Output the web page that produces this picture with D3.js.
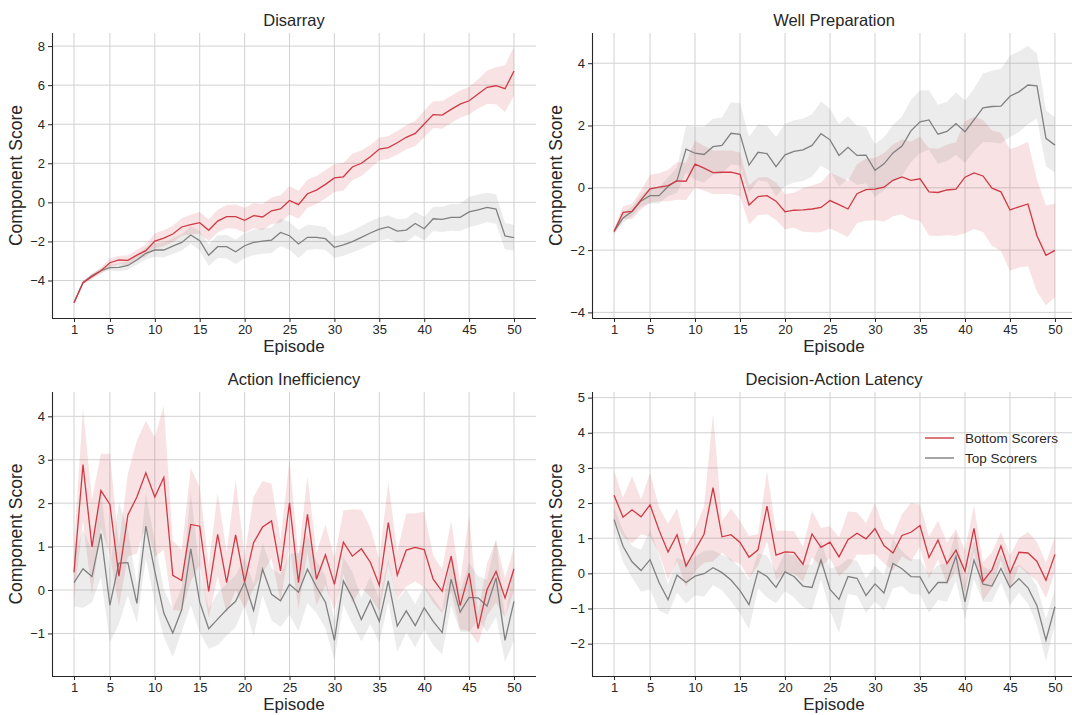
<!DOCTYPE html>
<html><head><meta charset="utf-8">
<script src="https://cdn.jsdelivr.net/npm/d3@7"></script>
<style>
body{margin:0;background:#fff}
svg{display:block}
text{font-family:"Liberation Sans",Arial,Helvetica,sans-serif;fill:#262626}
</style>
</head><body>
<svg id="chart" width="1072" height="715"></svg>
<script>
// ---------------- DATA ----------------
const episodes = d3.range(1, 51);
const xTickValues = [1, 5, 10, 15, 20, 25, 30, 35, 40, 45, 50];
const seriesNames = ["Bottom Scorers", "Top Scorers"];
const panelTitles = ["Disarray", "Well Preparation", "Action Inefficiency", "Decision-Action Latency"];

const disarrayYTicks = [-4, -2, 0, 2, 4, 6, 8];
const wellPrepYTicks = [-4, -2, 0, 2, 4];
const actionIneffYTicks = [-1, 0, 1, 2, 3, 4];
const latencyYTicks = [-2, -1, 0, 1, 2, 3, 4, 5];

const disarrayYDomain = [-5.92, 8.67];
const wellPrepYDomain = [-4.18, 4.97];
const actionIneffYDomain = [-1.98, 4.56];
const latencyYDomain = [-2.92, 5.16];

// Disarray
const disarrayBottom = [-5.14,-4.11,-3.8,-3.5,-3.09,-2.95,-2.97,-2.7,-2.47,-1.98,
  -1.83,-1.62,-1.26,-1.14,-1.04,-1.43,-0.96,-0.73,-0.73,-0.92,
  -0.68,-0.75,-0.43,-0.34,0.1,-0.12,0.44,0.63,0.92,1.25,
  1.31,1.81,2.0,2.34,2.73,2.8,3.05,3.33,3.53,4.01,
  4.49,4.47,4.76,5.03,5.2,5.55,5.89,5.97,5.82,6.72];
const disarrayBottomCI = [0.05,0.1,0.12,0.15,0.2,0.22,0.25,0.28,0.3,0.4,
  0.4,0.42,0.45,0.5,0.55,0.55,0.58,0.6,0.62,0.64,
  0.65,0.67,0.68,0.7,0.72,0.72,0.72,0.72,0.72,0.72,
  0.7,0.68,0.65,0.6,0.58,0.58,0.6,0.62,0.65,0.68,
  0.68,0.7,0.7,0.7,0.7,0.75,0.85,0.95,1.2,1.25];
const disarrayTop = [-5.14,-4.11,-3.75,-3.5,-3.34,-3.33,-3.23,-2.95,-2.61,-2.44,
  -2.44,-2.24,-2.05,-1.67,-1.96,-2.71,-2.27,-2.27,-2.53,-2.22,
  -2.05,-1.98,-1.93,-1.54,-1.71,-2.13,-1.79,-1.79,-1.86,-2.3,
  -2.18,-2.01,-1.79,-1.57,-1.37,-1.26,-1.47,-1.42,-1.08,-1.35,
  -0.84,-0.87,-0.77,-0.77,-0.49,-0.38,-0.26,-0.34,-1.72,-1.81];
const disarrayTopCI = [0.05,0.08,0.1,0.12,0.15,0.2,0.22,0.25,0.3,0.35,
  0.38,0.4,0.42,0.45,0.5,0.55,0.58,0.6,0.62,0.64,
  0.65,0.65,0.66,0.7,0.72,0.72,0.65,0.6,0.58,0.55,
  0.55,0.56,0.58,0.6,0.6,0.6,0.6,0.6,0.6,0.6,
  0.62,0.65,0.68,0.7,0.78,0.78,0.75,0.75,0.68,0.65];

// Well Preparation
const wellPrepBottom = [-1.4,-0.79,-0.76,-0.39,-0.03,0.02,0.07,0.22,0.21,0.76,
  0.63,0.49,0.5,0.5,0.43,-0.55,-0.28,-0.25,-0.43,-0.77,
  -0.72,-0.71,-0.68,-0.63,-0.41,-0.54,-0.68,-0.19,-0.06,-0.04,
  0.02,0.24,0.35,0.24,0.29,-0.13,-0.15,-0.07,-0.04,0.34,
  0.48,0.38,-0.01,-0.13,-0.71,-0.61,-0.52,-1.54,-2.17,-2.01];
const wellPrepBottomCI = [0.08,0.2,0.25,0.3,0.45,0.45,0.5,0.6,0.6,0.75,
  0.72,0.7,0.7,0.7,0.7,0.62,0.6,0.6,0.6,0.56,
  0.56,0.7,0.75,0.8,0.9,0.9,0.9,0.95,1.0,1.0,
  1.1,1.15,1.2,1.25,1.35,1.4,1.4,1.45,1.5,1.8,
  1.8,1.8,1.85,1.9,1.95,1.95,2.0,1.8,1.6,1.5];
const wellPrepTop = [-1.4,-0.97,-0.76,-0.42,-0.25,-0.25,0.04,0.24,1.24,1.11,
  1.07,1.32,1.36,1.75,1.72,0.73,1.14,1.1,0.68,1.06,
  1.17,1.22,1.36,1.74,1.54,1.04,1.3,1.04,1.05,0.56,
  0.77,1.12,1.34,1.83,2.12,2.18,1.72,1.81,2.06,1.8,
  2.18,2.57,2.61,2.62,2.94,3.08,3.3,3.27,1.59,1.37];
const wellPrepTopCI = [0.08,0.15,0.15,0.18,0.25,0.25,0.3,0.4,0.75,0.85,
  0.9,0.9,0.9,1.0,1.0,0.9,0.9,0.9,0.95,1.0,
  1.0,1.0,1.0,1.03,1.0,1.0,1.0,0.95,0.9,0.85,
  0.85,0.9,0.95,1.0,1.0,0.95,0.95,0.95,1.0,1.0,
  1.0,1.1,1.15,1.2,1.3,1.3,1.25,1.05,0.9,0.88];

// Action Inefficiency
const actionIneffBottom = [0.41,2.89,0.99,2.29,1.97,0.32,1.73,2.14,2.7,2.14,
  2.59,0.34,0.22,1.51,1.47,-0.03,1.28,0.17,1.27,0.18,
  1.09,1.45,1.59,0.44,2.01,0.17,1.74,0.25,0.81,0.13,
  1.1,0.78,0.95,0.64,0.11,1.55,0.34,0.92,0.98,0.93,
  0.25,-0.03,0.78,-0.36,0.39,-0.89,0.01,0.43,-0.18,0.49];
const actionIneffBottomCI = [0.6,1.3,1.1,0.85,1.17,0.7,0.95,1.3,1.2,1.38,
  1.66,0.8,0.7,1.3,0.9,0.6,0.95,0.7,1.27,0.6,
  1.06,1.06,0.86,0.7,1.0,0.6,0.88,0.6,0.7,0.6,
  0.73,1.08,0.9,0.8,0.6,0.94,0.55,0.84,0.78,0.87,
  0.55,0.5,0.82,0.55,1.33,0.35,0.6,0.72,0.45,0.5];
const actionIneffTop = [0.17,0.49,0.31,1.3,-0.35,0.62,0.63,-0.31,1.47,0.43,
  -0.53,-0.99,-0.45,0.95,-0.28,-0.89,-0.67,-0.45,-0.26,0.18,
  -0.47,0.48,-0.1,-0.25,0.13,-0.05,0.48,0.07,-0.28,-1.16,
  0.21,-0.18,-0.68,-0.24,-0.72,0.21,-0.83,-0.48,-0.82,-0.41,
  -0.72,-0.98,0.25,-0.51,-0.17,-0.18,-0.37,0.28,-1.16,-0.26];
const actionIneffTopCI = [0.55,0.9,0.6,1.0,0.85,1.4,0.75,0.45,0.75,0.7,
  0.55,0.55,0.5,1.3,0.7,0.46,0.6,0.6,0.6,0.55,
  0.6,0.6,0.6,0.6,0.7,0.9,0.78,0.6,0.6,0.45,
  0.55,0.6,0.5,0.55,0.5,0.5,0.6,0.5,0.5,0.5,
  0.55,0.5,0.6,0.45,0.8,0.5,0.6,0.9,0.5,0.9];

// Decision-Action Latency
const latencyBottom = [2.22,1.6,1.81,1.61,1.95,1.23,0.61,1.1,0.21,0.66,
  1.11,2.44,1.04,1.1,0.88,0.46,0.67,1.91,0.52,0.61,
  0.6,0.26,1.12,0.74,0.89,0.47,0.96,1.14,0.98,1.27,
  0.79,0.58,1.08,1.17,1.36,0.45,0.95,0.28,0.66,0.06,
  1.28,-0.23,0.1,0.78,0.01,0.6,0.58,0.34,-0.2,0.54];
const latencyBottomCI = [0.7,0.55,0.95,0.5,0.9,0.65,0.8,0.75,0.6,0.6,
  0.8,2.1,0.45,0.75,0.6,0.6,0.45,1.0,0.7,0.6,
  0.6,0.5,0.66,0.55,0.45,0.55,0.8,0.6,0.45,0.72,
  0.5,0.5,0.6,0.83,0.6,0.6,0.55,0.6,0.6,0.6,
  0.66,0.55,0.5,0.4,0.5,0.4,0.6,0.55,0.5,0.5];
const latencyTop = [1.53,0.77,0.33,0.08,0.39,-0.26,-0.75,-0.05,-0.26,-0.08,
  -0.01,0.16,0.02,-0.19,-0.49,-0.89,0.07,-0.09,-0.4,0.04,
  -0.09,-0.36,-0.4,0.38,-0.46,-0.74,-0.09,-0.14,-0.63,-0.3,
  -0.56,0.28,0.13,-0.09,-0.1,-0.57,-0.26,-0.26,0.49,-0.81,
  0.38,-0.31,-0.36,0.14,-0.4,-0.15,-0.41,-0.92,-1.9,-0.95];
const latencyTopCI = [0.35,0.45,0.45,0.6,0.84,0.8,0.43,0.5,0.6,0.55,
  0.65,0.5,0.5,0.6,0.65,0.7,0.5,0.6,0.45,0.55,
  0.6,0.6,0.65,0.55,0.6,0.95,0.5,0.5,0.5,0.5,
  0.5,0.7,0.5,0.5,0.5,0.55,0.5,0.55,0.7,0.5,
  0.55,0.5,0.45,0.4,0.5,0.4,0.45,0.55,0.6,0.5];

// ---------------- LAYOUT / STYLE ----------------
const RED = "#cf3a44";
const GRAY = "#808080";
const panels = [
  {title: panelTitles[0], bottom: disarrayBottom, bottomCI: disarrayBottomCI, top: disarrayTop, topCI: disarrayTopCI,
   yTicks: disarrayYTicks, yDomain: disarrayYDomain, x0: 52, x1: 536, y0: 33, y1: 318},
  {title: panelTitles[1], bottom: wellPrepBottom, bottomCI: wellPrepBottomCI, top: wellPrepTop, topCI: wellPrepTopCI,
   yTicks: wellPrepYTicks, yDomain: wellPrepYDomain, x0: 592, x1: 1077, y0: 33, y1: 318},
  {title: panelTitles[2], bottom: actionIneffBottom, bottomCI: actionIneffBottomCI, top: actionIneffTop, topCI: actionIneffTopCI,
   yTicks: actionIneffYTicks, yDomain: actionIneffYDomain, x0: 52, x1: 536, y0: 392, y1: 676},
  {title: panelTitles[3], bottom: latencyBottom, bottomCI: latencyBottomCI, top: latencyTop, topCI: latencyTopCI,
   yTicks: latencyYTicks, yDomain: latencyYDomain, x0: 592, x1: 1077, y0: 392, y1: 676, legend: true}
];

const svg = d3.select("#chart");

panels.forEach((p, pi) => {
  const x = d3.scaleLinear().domain([1 - 0.05 * 49, 50 + 0.05 * 49]).range([p.x0, p.x1]);
  const y = d3.scaleLinear().domain(p.yDomain).range([p.y1, p.y0]);
  const g = svg.append("g");

  // grid
  const grid = g.append("g");
  grid.selectAll("line.v").data(xTickValues).join("line")
    .attr("x1", d => x(d)).attr("x2", d => x(d)).attr("y1", p.y0).attr("y2", p.y1)
    .attr("stroke", "#d2d2d2").attr("stroke-width", 1);
  grid.selectAll("line.h").data(p.yTicks).join("line")
    .attr("y1", d => y(d)).attr("y2", d => y(d)).attr("x1", p.x0).attr("x2", p.x1)
    .attr("stroke", "#d2d2d2").attr("stroke-width", 1);

  const series = [
    {name: seriesNames[0], vals: p.bottom, ci: p.bottomCI, color: RED},
    {name: seriesNames[1], vals: p.top, ci: p.topCI, color: GRAY}
  ];

  const area = d3.area()
    .x((d, i) => x(episodes[i]))
    .y0((d, i) => y(d[0] - d[1]))
    .y1((d, i) => y(d[0] + d[1]));
  const line = d3.line().x((d, i) => x(episodes[i])).y(d => y(d));

  series.forEach(s => {
    g.append("path").datum(s.vals.map((v, i) => [v, s.ci[i]]))
      .attr("d", area).attr("fill", s.color).attr("fill-opacity", 0.15).attr("stroke", "none");
  });
  series.slice().reverse().forEach(s => {
    g.append("path").datum(s.vals).attr("d", line)
      .attr("fill", "none").attr("stroke", s.color).attr("stroke-width", 1.3);
  });

  // axes
  const xAxis = d3.axisBottom(x).tickValues(xTickValues).tickSize(4).tickPadding(3).tickFormat(d3.format("d"));
  const yAxis = d3.axisLeft(y).tickValues(p.yTicks).tickSize(4).tickPadding(3).tickFormat(d3.format("d"));
  const gx = g.append("g").attr("transform", `translate(0,${p.y1})`).call(xAxis);
  const gy = g.append("g").attr("transform", `translate(${p.x0},0)`).call(yAxis);
  [gx, gy].forEach(a => {
    a.select(".domain").attr("stroke", "#262626").attr("stroke-width", 1.1);
    a.selectAll(".tick line").attr("stroke", "#262626");
    a.selectAll(".tick text").attr("font-size", 13).attr("fill", "#333")
      .style("font-family", "'Liberation Sans', Arial, sans-serif");
  });
  gy.select(".domain").attr("d", `M0.5,${p.y1}V${p.y0}`);
  gx.select(".domain").attr("d", `M${p.x0},0.5H${p.x1}`);

  // labels
  const cx = p.x0 + 242;
  g.append("text").attr("x", cx).attr("y", p.y0 - 7)
    .attr("text-anchor", "middle").attr("font-size", 16.5).text(p.title);
  g.append("text").attr("x", cx).attr("y", p.y1 + 34)
    .attr("text-anchor", "middle").attr("font-size", 17).text("Episode");
  g.append("text")
    .attr("transform", `translate(${p.x0 - 30},${(p.y0 + p.y1) / 2}) rotate(-90)`)
    .attr("text-anchor", "middle").attr("font-size", 17.5).text("Component Score");

  if (p.legend) {
    const lg = g.append("g");
    series.forEach((s, i) => {
      const ly = 438 + i * 20;
      lg.append("line").attr("x1", 925).attr("x2", 954).attr("y1", ly).attr("y2", ly)
        .attr("stroke", s.color).attr("stroke-width", 1.4);
      lg.append("text").attr("x", 965).attr("y", ly + 4.5).attr("font-size", 13.5).text(s.name);
    });
  }
});
</script>
</body></html>
